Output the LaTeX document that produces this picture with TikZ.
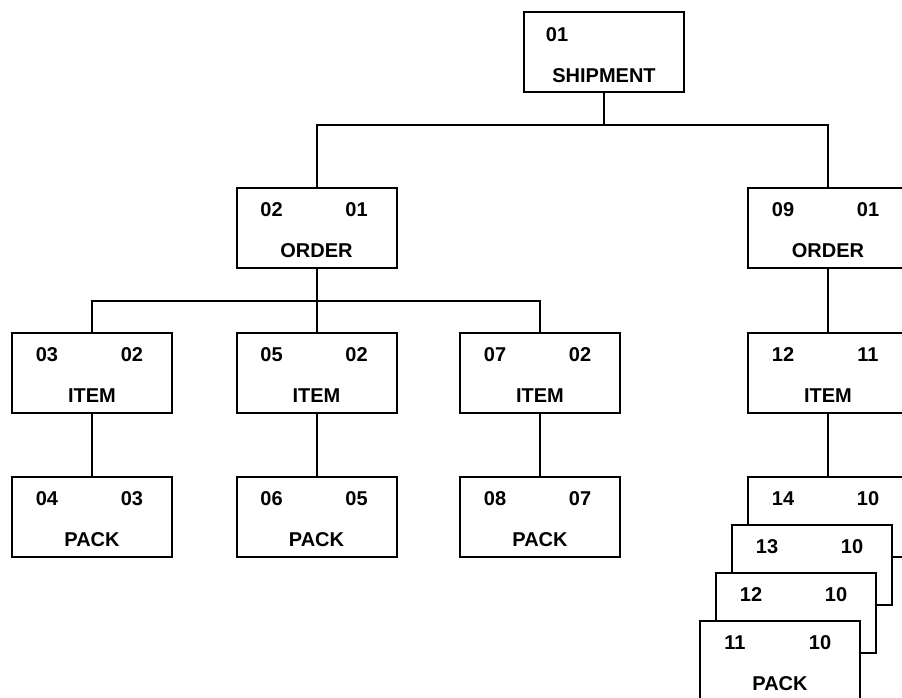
\documentclass[tikz,border=0pt]{standalone}
\usepackage{fontspec}
\setmainfont{Liberation Sans}
\usetikzlibrary{calc}
\tikzset{
  ent/.style={draw, line width=2pt, fill=white, minimum width=160pt,
              minimum height=80pt, inner sep=0pt},
  lbl/.style={font=\fontsize{20}{24}\selectfont\bfseries, inner sep=0pt, anchor=center},
  link/.style={line width=2pt}
}
% entity box with two key fields on top and its name below
\newcommand\entity[6]{%
  \node[ent] (#1) at (#2,#3) {};
  \node[lbl] (#1-a) at ($(#1.north west)+(36,23)$) {#4};
  \node[lbl] (#1-b) at ($(#1.north west)+(121,23)$) {#5};
  \node[lbl] (#1-c) at ($(#1.north)+(0,64)$) {#6};
}
\begin{document}
\begin{tikzpicture}[x=1pt, y=-1pt]
  \useasboundingbox (0,0) rectangle (902,698);
  \clip (0,0) rectangle (902,698);

  % root
  \node[ent] (ship) at (604,52.5) {};
  \node[lbl] (ship-a) at ($(ship.north west)+(34,23)$) {01};
  \node[lbl] (ship-c) at ($(ship.north)+(0,64)$) {SHIPMENT};

  % orders
  \entity{ordL}{316.5}{228}{02}{01}{ORDER}
  \entity{ordR}{828}{228}{09}{01}{ORDER}

  % items
  \entity{itA}{92}{373}{03}{02}{ITEM}
  \entity{itB}{316.5}{373}{05}{02}{ITEM}
  \entity{itC}{540}{373}{07}{02}{ITEM}
  \entity{itR}{828}{373}{12}{11}{ITEM}

  % packs
  \entity{pkA}{92}{517}{04}{03}{PACK}
  \entity{pkB}{316.5}{517}{06}{05}{PACK}
  \entity{pkC}{540}{517}{08}{07}{PACK}

  % stacked packs of the last item, back to front
  \node[ent] (pkD) at (828,517) {};
  \node[lbl] (pkD-a) at ($(pkD.north west)+(36,23)$) {14};
  \node[lbl] (pkD-b) at ($(pkD.north west)+(121,23)$) {10};
  \node[ent] (pkE) at (812,565) {};
  \node[lbl] (pkE-a) at ($(pkE.north west)+(36,23)$) {13};
  \node[lbl] (pkE-b) at ($(pkE.north west)+(121,23)$) {10};
  \node[ent] (pkF) at (796,613) {};
  \node[lbl] (pkF-a) at ($(pkF.north west)+(36,23)$) {12};
  \node[lbl] (pkF-b) at ($(pkF.north west)+(121,23)$) {10};
  \entity{pkG}{780}{661}{11}{10}{PACK}

  % connectors
  \coordinate (busA) at (604,125);
  \coordinate (busB) at (316.5,301);
  \draw[link] (ship.south) -- (busA);
  \draw[link] (ordL.north) |- (busA) -| (ordR.north);
  \draw[link] (ordL.south) -- (busB);
  \draw[link] (itA.north) |- (busB) -| (itC.north);
  \draw[link] (busB) -- (itB.north);
  \draw[link] (ordR.south) -- (itR.north);
  \draw[link] (itA.south) -- (pkA.north);
  \draw[link] (itB.south) -- (pkB.north);
  \draw[link] (itC.south) -- (pkC.north);
  \draw[link] (itR.south) -- (pkD.north);
\end{tikzpicture}
\end{document}
